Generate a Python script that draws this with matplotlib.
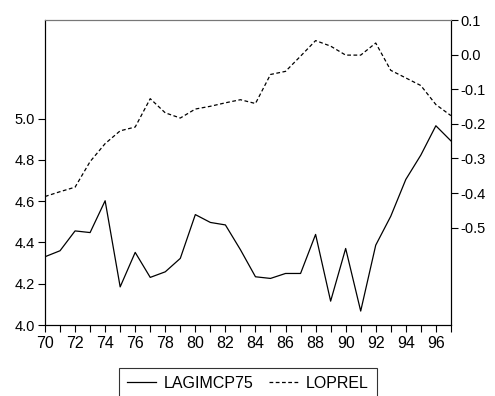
import numpy as np
import matplotlib
matplotlib.use("Agg")
import matplotlib.pyplot as plt
from matplotlib.ticker import MultipleLocator

plt.rcParams['font.family'] = ['Liberation Sans', 'DejaVu Sans']

years = np.arange(1970, 1998)
lagimcp75 = [4.331, 4.360, 4.456, 4.448, 4.602, 4.185, 4.352, 4.231, 4.258, 4.323,
             4.535, 4.497, 4.485, 4.365, 4.234, 4.226, 4.250, 4.250, 4.439, 4.116,
             4.371, 4.068, 4.387, 4.527, 4.705, 4.823, 4.965, 4.892]
loprel = [-0.410, -0.396, -0.383, -0.309, -0.257, -0.220, -0.209, -0.127, -0.168, -0.183,
          -0.157, -0.149, -0.139, -0.130, -0.141, -0.057, -0.048, -0.004, 0.041, 0.025,
          -0.001, -0.001, 0.034, -0.045, -0.067, -0.089, -0.144, -0.176]
left_ticks = [4.0, 4.2, 4.4, 4.6, 4.8, 5.0]
right_ticks = [0.1, 0.0, -0.1, -0.2, -0.3, -0.4, -0.5]

fig = plt.figure(figsize=(4.95, 3.96), dpi=100)
ax = fig.add_axes([0.0909, 0.179, 0.820, 0.770])
ax2 = ax.twinx()

l1, = ax.plot(years, lagimcp75, color='black', lw=0.9)
l2, = ax2.plot(years, loprel, color='black', lw=0.9, ls=(0, (3, 2)))

ax.set_xlim(1970, 1997)
ax.set_ylim(4.0, 5.476)
ax2.set_ylim(-0.782, 0.1)
ax.set_yticks(left_ticks)
ax.set_yticklabels(['%.1f' % v for v in left_ticks])
ax2.set_yticks(right_ticks)
ax2.set_yticklabels(['%.1f' % v for v in right_ticks])
ax.set_xticks(np.arange(1970, 1997, 2))
ax.set_xticklabels(['%02d' % (y % 100) for y in range(1970, 1997, 2)])
ax.xaxis.set_minor_locator(MultipleLocator(1))

for a in (ax, ax2):
    a.tick_params(which='both', direction='out', length=5, width=0.8,
                  labelsize=10.5, pad=2)
    for s in a.spines.values():
        s.set_linewidth(0.8)
    a.spines['top'].set_color('#777777')
ax.tick_params(axis='x', labelsize=11.5, pad=3)
ax.tick_params(axis='y', right=False)
ax2.tick_params(axis='y', left=False)

leg = fig.legend([l1, l2], ['LAGIMCP75', 'LOPREL'], loc='upper center',
                 bbox_to_anchor=(0.501, 0.0707), ncol=2, frameon=True,
                 fancybox=False, edgecolor='black', fontsize=11.5,
                 handlelength=1.8, columnspacing=1.0, borderpad=0.5,
                 handletextpad=0.5, borderaxespad=0)
leg.get_frame().set_linewidth(0.8)

fig.savefig('out.png', dpi=100)
